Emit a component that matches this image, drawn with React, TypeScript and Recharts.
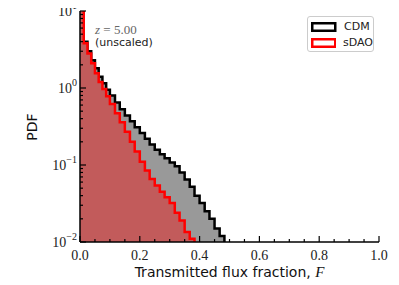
import React from "react";
import { ComposedChart, Area, XAxis, YAxis } from "recharts";

// bin edges of the flux histogram (F)
const EDGES = [
  0, 0.0125, 0.025, 0.0375, 0.05, 0.0625, 0.075, 0.0875, 0.1, 0.117, 0.133,
  0.15, 0.167, 0.183, 0.2, 0.217, 0.233, 0.25, 0.267, 0.283, 0.3, 0.317, 0.333,
  0.35, 0.367, 0.383, 0.4, 0.417, 0.433, 0.45, 0.467, 0.483,
];

// PDF per bin
const CDM = [
  12, 4.0, 3.0, 2.3, 1.8, 1.4, 1.15, 0.95, 0.8, 0.65, 0.53, 0.44, 0.37, 0.31,
  0.26, 0.22, 0.185, 0.158, 0.138, 0.122, 0.108, 0.096, 0.08, 0.065, 0.052,
  0.04, 0.032, 0.025, 0.02, 0.015, 0.012,
];
const SDAO = [
  13, 3.8, 2.8, 2.1, 1.55, 1.2, 0.97, 0.78, 0.62, 0.47, 0.36, 0.27, 0.2, 0.15,
  0.11, 0.085, 0.066, 0.054, 0.045, 0.038, 0.032, 0.024, 0.019, 0.0135, 0.011,
];

const X_TICKS = [
  0, 0.05, 0.1, 0.15, 0.2, 0.25, 0.3, 0.35, 0.4, 0.45, 0.5, 0.55, 0.6, 0.65,
  0.7, 0.75, 0.8, 0.85, 0.9, 0.95, 1.0,
];
const X_MAJOR = [0, 0.2, 0.4, 0.6, 0.8, 1.0];
const Y_TICKS = [
  0.01, 0.02, 0.03, 0.04, 0.05, 0.06, 0.07, 0.08, 0.09, 0.1, 0.2, 0.3, 0.4,
  0.5, 0.6, 0.7, 0.8, 0.9, 1, 2, 3, 4, 5, 6, 7, 8, 9, 10,
];
const Y_MAJOR = [0.01, 0.1, 1, 10];
const Y_EXP = ["−2", "−1", "0", "1"];

const SERIES = [
  { key: "cdm", name: "CDM", stroke: "#000000", fill: "#999999" },
  { key: "sdao", name: "sDAO", stroke: "#ff0000", fill: "#c25b5b" },
];

const FLOOR = 0.01;

const data = EDGES.map((f, i) => ({
  f,
  cdm: i < CDM.length ? CDM[i] : i === CDM.length ? FLOOR : null,
  sdao: i < SDAO.length ? SDAO[i] : i === SDAO.length ? FLOOR : null,
}));

const serif = "'Liberation Serif', 'DejaVu Serif', serif";
const sans = "'DejaVu Sans', sans-serif";

const isIn = (arr: number[], v: number) => arr.some((a) => Math.abs(a - v) < 1e-9);

const XTick = (side: "bottom" | "top") => (props: any) => {
  const { x, y, payload } = props;
  const major = isIn(X_MAJOR, payload.value);
  const len = major ? 6 : 3;
  const dir = side === "bottom" ? -1 : 1;
  return (
    <g>
      <line x1={x} x2={x} y1={y} y2={y + dir * len} stroke="#000" strokeWidth={1.2} />
      {side === "bottom" && major && (
        <text x={x} y={y + 18} textAnchor="middle" fontFamily={serif} fontSize={14} fill="#222">
          {payload.value.toFixed(1)}
        </text>
      )}
    </g>
  );
};

const YTick = (side: "left" | "right") => (props: any) => {
  const { x, y, payload } = props;
  const idx = Y_MAJOR.findIndex((m) => Math.abs(m - payload.value) < 1e-9);
  const major = idx >= 0;
  const len = major ? 6 : 3;
  const dir = side === "left" ? 1 : -1;
  return (
    <g>
      <line x1={x} x2={x + dir * len} y1={y} y2={y} stroke="#000" strokeWidth={1.2} />
      {side === "left" && major && (
        <text x={x - 3} y={y + 5} textAnchor="end" fontFamily={serif} fontSize={14} fill="#222">
          10
          <tspan dy={-7} fontSize={10}>
            {Y_EXP[idx]}
          </tspan>
        </text>
      )}
    </g>
  );
};

const LegendBox = () => (
  <div
    style={{
      position: "absolute",
      left: 307,
      top: 16,
      boxSizing: "border-box",
      width: 67,
      height: 36,
      border: "1px solid #cccccc",
      borderRadius: 3,
      background: "#fff",
      padding: "2px 0 0 3px",
    }}
  >
    {SERIES.map((s) => (
      <div key={s.key} style={{ display: "flex", alignItems: "center", height: 16 }}>
        <svg width={26} height={10} style={{ marginRight: 7 }}>
          <rect x={1.25} y={1.25} width={23} height={7.5} fill="#fff" stroke={s.stroke} strokeWidth={2.5} />
        </svg>
        <span style={{ fontFamily: sans, fontSize: 11, color: "#222", lineHeight: "12px" }}>{s.name}</span>
      </div>
    ))}
  </div>
);

export default function App() {
  return (
    <div style={{ position: "relative", width: 399, height: 285, margin: "-8px 0 0 -8px" }}>
      <ComposedChart
        width={399}
        height={285}
        data={data}
        margin={{ top: 11, right: 20, left: 0, bottom: 0 }}
      >
        <XAxis
          xAxisId="b"
          dataKey="f"
          type="number"
          domain={[0, 1]}
          ticks={X_TICKS}
          interval={0}
          height={43}
          tickSize={0}
          tickMargin={0}
          tick={XTick("bottom")}
          axisLine={{ stroke: "#000", strokeWidth: 1.5 }}
          tickLine={false}
        />
        <XAxis
          xAxisId="t"
          orientation="top"
          dataKey="f"
          type="number"
          domain={[0, 1]}
          ticks={X_TICKS}
          interval={0}
          height={0}
          tickSize={0}
          tickMargin={0}
          tick={XTick("top")}
          axisLine={{ stroke: "#000", strokeWidth: 1.5 }}
          tickLine={false}
        />
        <YAxis
          yAxisId="l"
          type="number"
          scale="log"
          domain={[0.01, 10]}
          allowDataOverflow
          ticks={Y_TICKS}
          interval={0}
          width={80}
          tickSize={0}
          tickMargin={0}
          tick={YTick("left")}
          axisLine={{ stroke: "#000", strokeWidth: 1.5 }}
          tickLine={false}
        />
        <YAxis
          yAxisId="r"
          orientation="right"
          type="number"
          scale="log"
          domain={[0.01, 10]}
          allowDataOverflow
          ticks={Y_TICKS}
          interval={0}
          width={0}
          tickSize={0}
          tickMargin={0}
          tick={YTick("right")}
          axisLine={{ stroke: "#000", strokeWidth: 1.5 }}
          tickLine={false}
        />
        {SERIES.map((s) => (
          <Area
            key={s.key}
            xAxisId="b"
            yAxisId="l"
            dataKey={s.key}
            name={s.name}
            type="stepAfter"
            baseValue={FLOOR}
            stroke={s.stroke}
            strokeWidth={2.5}
            fill={s.fill}
            fillOpacity={1}
            connectNulls={false}
            dot={false}
            activeDot={false}
            isAnimationActive={false}
          />
        ))}
      </ComposedChart>
      <LegendBox />
      <div
        style={{
          position: "absolute",
          left: 95,
          top: 23,
          lineHeight: "14px",
          fontFamily: serif,
          fontSize: 13,
          color: "#666",
          whiteSpace: "nowrap",
        }}
      >
        <i>z</i> = 5.00
      </div>
      <div
        style={{
          position: "absolute",
          left: 95,
          top: 37,
          lineHeight: "12px",
          fontFamily: sans,
          fontSize: 11,
          color: "#222",
          whiteSpace: "nowrap",
        }}
      >
        (unscaled)
      </div>
      <div
        style={{
          position: "absolute",
          left: 32 - 30,
          top: 127 - 8,
          width: 60,
          lineHeight: "16px",
          textAlign: "center",
          transform: "rotate(-90deg)",
          fontFamily: sans,
          fontSize: 14,
          color: "#111",
        }}
      >
        PDF
      </div>
      <div
        style={{
          position: "absolute",
          left: 80,
          width: 299,
          top: 264,
          lineHeight: "16px",
          textAlign: "center",
          fontFamily: sans,
          fontSize: 14,
          color: "#111",
          whiteSpace: "nowrap",
        }}
      >
        Transmitted flux fraction, <i style={{ fontFamily: serif, fontSize: 15 }}>F</i>
      </div>
    </div>
  );
}
